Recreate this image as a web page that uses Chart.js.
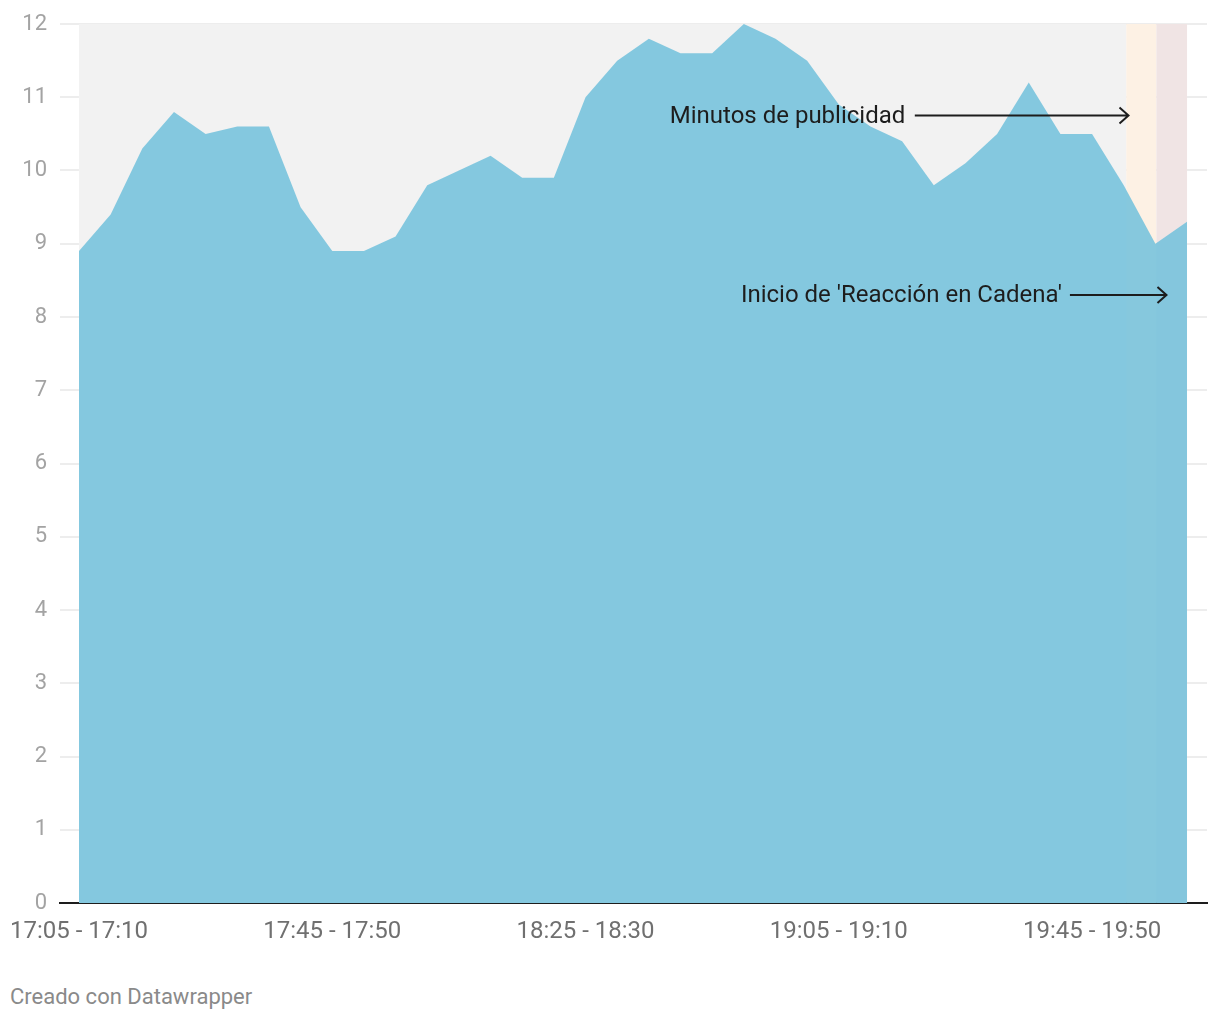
<!DOCTYPE html>
<html>
<head>
<meta charset="utf-8">
<script src="https://cdn.jsdelivr.net/npm/chart.js@4.4.1/dist/chart.umd.min.js"></script>
<style>
  body { margin: 0; background: #fff; font-family: Roboto, sans-serif; }
  #wrap { position: absolute; left: 0; top: 0; width: 1220px; height: 960px; }
  #pie { position: absolute; left: 10px; top: 984px; font-size: 22px; color: #8a8a8a; }
</style>
</head>
<body>
<div id="wrap"><canvas id="grafico"></canvas></div>
<div id="pie">Creado con Datawrapper</div>
<script>
// franjas de 5 minutos
const franjas = [
    '17:05 - 17:10', '17:10 - 17:15', '17:15 - 17:20', '17:20 - 17:25', '17:25 - 17:30', '17:30 - 17:35',
    '17:35 - 17:40', '17:40 - 17:45', '17:45 - 17:50', '17:50 - 17:55', '17:55 - 18:00', '18:00 - 18:05',
    '18:05 - 18:10', '18:10 - 18:15', '18:15 - 18:20', '18:20 - 18:25', '18:25 - 18:30', '18:30 - 18:35',
    '18:35 - 18:40', '18:40 - 18:45', '18:45 - 18:50', '18:50 - 18:55', '18:55 - 19:00', '19:00 - 19:05',
    '19:05 - 19:10', '19:10 - 19:15', '19:15 - 19:20', '19:20 - 19:25', '19:25 - 19:30', '19:30 - 19:35',
    '19:35 - 19:40', '19:40 - 19:45', '19:45 - 19:50', '19:50 - 19:55', '19:55 - 20:00', '20:00 - 20:05'
]
const valores = [
    8.9, 9.4, 10.3, 10.8, 10.5, 10.6, 10.6, 9.5, 8.9, 8.9, 9.1, 9.8,
    10.0, 10.2, 9.9, 9.9, 11.0, 11.5, 11.8, 11.6, 11.6, 12.0, 11.8, 11.5,
    10.9, 10.6, 10.4, 9.8, 10.1, 10.5, 11.2, 10.5, 10.5, 9.8, 9.0, 9.3
]
const ticksX = [0, 8, 16, 24, 32]
const ticksY = [0, 1, 2, 3, 4, 5, 6, 7, 8, 9, 10, 11, 12]

// zonas de fondo (en indices de franja)
const zonaPublicidad = [33.08, 34.03]
const zonaCadena = [34.03, 35.0]

const notas = [
    { texto: 'Minutos de publicidad', y: 10.75, finTexto: 26.1, desde: 26.4, hasta: 33.15 },
    { texto: "Inicio de 'Reacción en Cadena'", y: 8.3, finTexto: 31.05, desde: 31.3, hasta: 34.35 }
]

const fondo = {
    id: 'fondo',
    beforeDatasetsDraw(chart) {
        const { ctx, chartArea: a, scales: { x } } = chart
        ctx.save()
        ctx.fillStyle = '#f2f2f2'
        ctx.fillRect(x.getPixelForValue(0), a.top, x.getPixelForValue(zonaPublicidad[0]) - x.getPixelForValue(0), a.bottom - a.top)
        ctx.fillStyle = '#fdf1e4'
        ctx.fillRect(x.getPixelForValue(zonaPublicidad[0]), a.top, x.getPixelForValue(zonaPublicidad[1]) - x.getPixelForValue(zonaPublicidad[0]), a.bottom - a.top)
        ctx.fillStyle = '#f0e4e4'
        ctx.fillRect(x.getPixelForValue(zonaCadena[0]), a.top, x.getPixelForValue(zonaCadena[1]) - x.getPixelForValue(zonaCadena[0]), a.bottom - a.top)
        ctx.restore()
    }
}

const anotaciones = {
    id: 'anotaciones',
    afterDraw(chart) {
        const { ctx, scales: { x, y } } = chart
        ctx.save()
        ctx.font = '24px Roboto'
        ctx.fillStyle = '#1d1d1d'
        ctx.strokeStyle = '#1d1d1d'
        ctx.lineWidth = 2
        ctx.textAlign = 'right'
        ctx.textBaseline = 'middle'
        notas.forEach(n => {
            const py = y.getPixelForValue(n.y)
            ctx.fillText(n.texto, x.getPixelForValue(n.finTexto), py + 1)
            const x1 = x.getPixelForValue(n.desde)
            const x2 = x.getPixelForValue(n.hasta)
            ctx.beginPath()
            ctx.moveTo(x1, py)
            ctx.lineTo(x2, py)
            ctx.moveTo(x2 - 9, py - 8)
            ctx.lineTo(x2, py)
            ctx.lineTo(x2 - 9, py + 8)
            ctx.stroke()
        })
        ctx.restore()
    }
}

const grafico = new Chart(document.getElementById('grafico'), {
    type: 'line',
    data: {
        datasets: [{
            data: valores.map((v, i) => ({ x: i, y: v })),
            fill: 'origin',
            backgroundColor: 'rgba(113, 193, 220, 0.85)',
            borderWidth: 0,
            pointRadius: 0,
            tension: 0
        }]
    },
    options: {
        responsive: true,
        maintainAspectRatio: false,
        animation: false,
        layout: { padding: { top: 24, right: 13, left: 0, bottom: 0 } },
        plugins: { legend: { display: false }, tooltip: { enabled: false } },
        scales: {
            x: {
                type: 'linear',
                min: -0.6,
                max: 35.63,
                z: 1,
                afterBuildTicks: s => { s.ticks = ticksX.map(v => ({ value: v })) },
                afterFit: s => { s.height = 57; s.paddingLeft = 0; s.paddingRight = 0 },
                grid: { display: false, drawTicks: false },
                border: { display: true, color: '#1d1d1d', width: 2 },
                ticks: {
                    autoSkip: false,
                    maxRotation: 0,
                    padding: 15,
                    color: '#707070',
                    font: { family: 'Roboto', size: 24 },
                    callback: v => franjas[v]
                }
            },
            y: {
                min: 0,
                max: 12,
                z: 1,
                afterBuildTicks: s => { s.ticks = ticksY.map(v => ({ value: v })) },
                afterFit: s => { s.width = 60; s.paddingTop = 0; s.paddingBottom = 0 },
                grid: { color: 'rgba(0, 0, 0, 0.07)', lineWidth: 2, drawTicks: false },
                border: { display: false },
                ticks: {
                    padding: 13,
                    color: '#a3a3a3',
                    font: { family: 'Roboto', size: 22 }
                }
            }
        }
    },
    plugins: [fondo, anotaciones]
})
</script>
</body>
</html>
